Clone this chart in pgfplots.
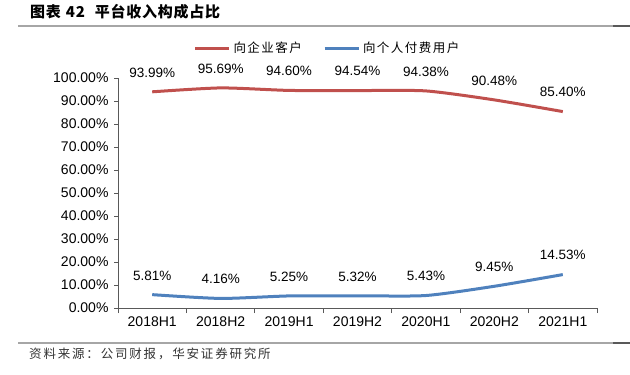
\documentclass[border=0pt]{standalone}
\usepackage{pgfplots}
\pgfplotsset{compat=1.18}
\usepackage{fontspec}
\setmainfont{Liberation Sans}
\newfontfamily\cjk{Noto Sans CJK SC}
\newfontfamily\cjktitle[LetterSpace=5]{Noto Sans CJK SC}
\newfontfamily\cjkls[LetterSpace=12]{Noto Sans CJK SC}
\newfontfamily\cjksrc[LetterSpace=14.5]{Noto Sans CJK SC}
\definecolor{cred}{HTML}{C0504D}
\definecolor{cblue}{HTML}{4F81BD}
\definecolor{axgray}{HTML}{595959}
\definecolor{rulegray}{HTML}{A6A6A6}
\begin{document}
\begin{tikzpicture}
\path[use as bounding box] (0,0) rectangle (630bp,-375bp);
\draw[rulegray, line width=1.6bp] (18bp,-26bp) -- (630bp,-26bp);
\draw[axgray, line width=1.6bp] (613bp,-26bp) -- (630bp,-26bp);
\draw[rulegray, line width=1.6bp] (18bp,-343bp) -- (630bp,-343bp);
\draw[axgray, line width=1.6bp] (613bp,-343bp) -- (630bp,-343bp);
\node[anchor=west, inner sep=0pt, font={\cjktitle\bfseries\fontsize{15bp}{17bp}\selectfont}] at (30bp,-12bp) {图表\hspace{5bp}42\hspace{10bp}平台收入构成占比};
\node[anchor=west, inner sep=0pt, font={\cjksrc\fontsize{12.5bp}{14bp}\selectfont}, text=black!80] at (29bp,-354bp) {资料来源：公司财报，华安证券研究所};
\begin{axis}[
  at={(118bp,-308bp)}, anchor=south west,
  scale only axis, width=479bp, height=230bp,
  xmin=-0.5, xmax=6.5, ymin=0, ymax=100,
  axis lines*=left,
  axis line style={axgray, line width=0.9bp, -},
  clip=false,
  xtick={0,...,6},
  xticklabels={2018H1,2018H2,2019H1,2019H2,2020H1,2020H2,2021H1},
  major x tick style={draw=none},
  minor xtick={-0.5,0.5,...,6.5},
  minor x tick style={axgray, line width=0.9bp},
  minor tick length=5bp,
  ytick={0,10,...,100},
  yticklabels={0.00\%,10.00\%,20.00\%,30.00\%,40.00\%,50.00\%,60.00\%,70.00\%,80.00\%,90.00\%,100.00\%},
  y tick style={axgray, line width=0.9bp},
  tick align=outside,
  major tick length=4bp,
  tick label style={font=\fontsize{14bp}{16bp}\selectfont, text=black},
  xticklabel style={yshift=-1bp},
  yticklabel style={xshift=-2bp},
  /pgf/number format/assume math mode=true,
  nodes near coords={\pgfmathprintnumber[fixed,fixed zerofill,precision=2]{\pgfplotspointmeta}\%},
  every node near coord/.append style={font=\fontsize{13.5bp}{15bp}\selectfont, anchor=south, inner sep=0pt, yshift=13bp, text=black},
  legend columns=2,
  legend style={at={(0.4353,1.1304)}, anchor=center, draw=none, fill=none,
    inner sep=0pt, nodes={inner sep=0pt},
    font={\cjkls\fontsize{12.5bp}{15bp}\selectfont}, column sep=3bp,
    /tikz/every even column/.append style={column sep=21bp}},
  legend image code/.code={\draw[#1] (0bp,0bp) -- (34bp,0bp);},
]
\addplot[cred, line width=3bp, smooth, tension=0.4] coordinates {
(0,93.99) (1,95.69) (2,94.60) (3,94.54) (4,94.38) (5,90.48) (6,85.40)};
\addlegendentry{向企业客户}
\addplot[cblue, line width=3bp, smooth, tension=0.4] coordinates {
(0,5.81) (1,4.16) (2,5.25) (3,5.32) (4,5.43) (5,9.45) (6,14.53)};
\addlegendentry{向个人付费用户}
\end{axis}
\end{tikzpicture}
\end{document}
